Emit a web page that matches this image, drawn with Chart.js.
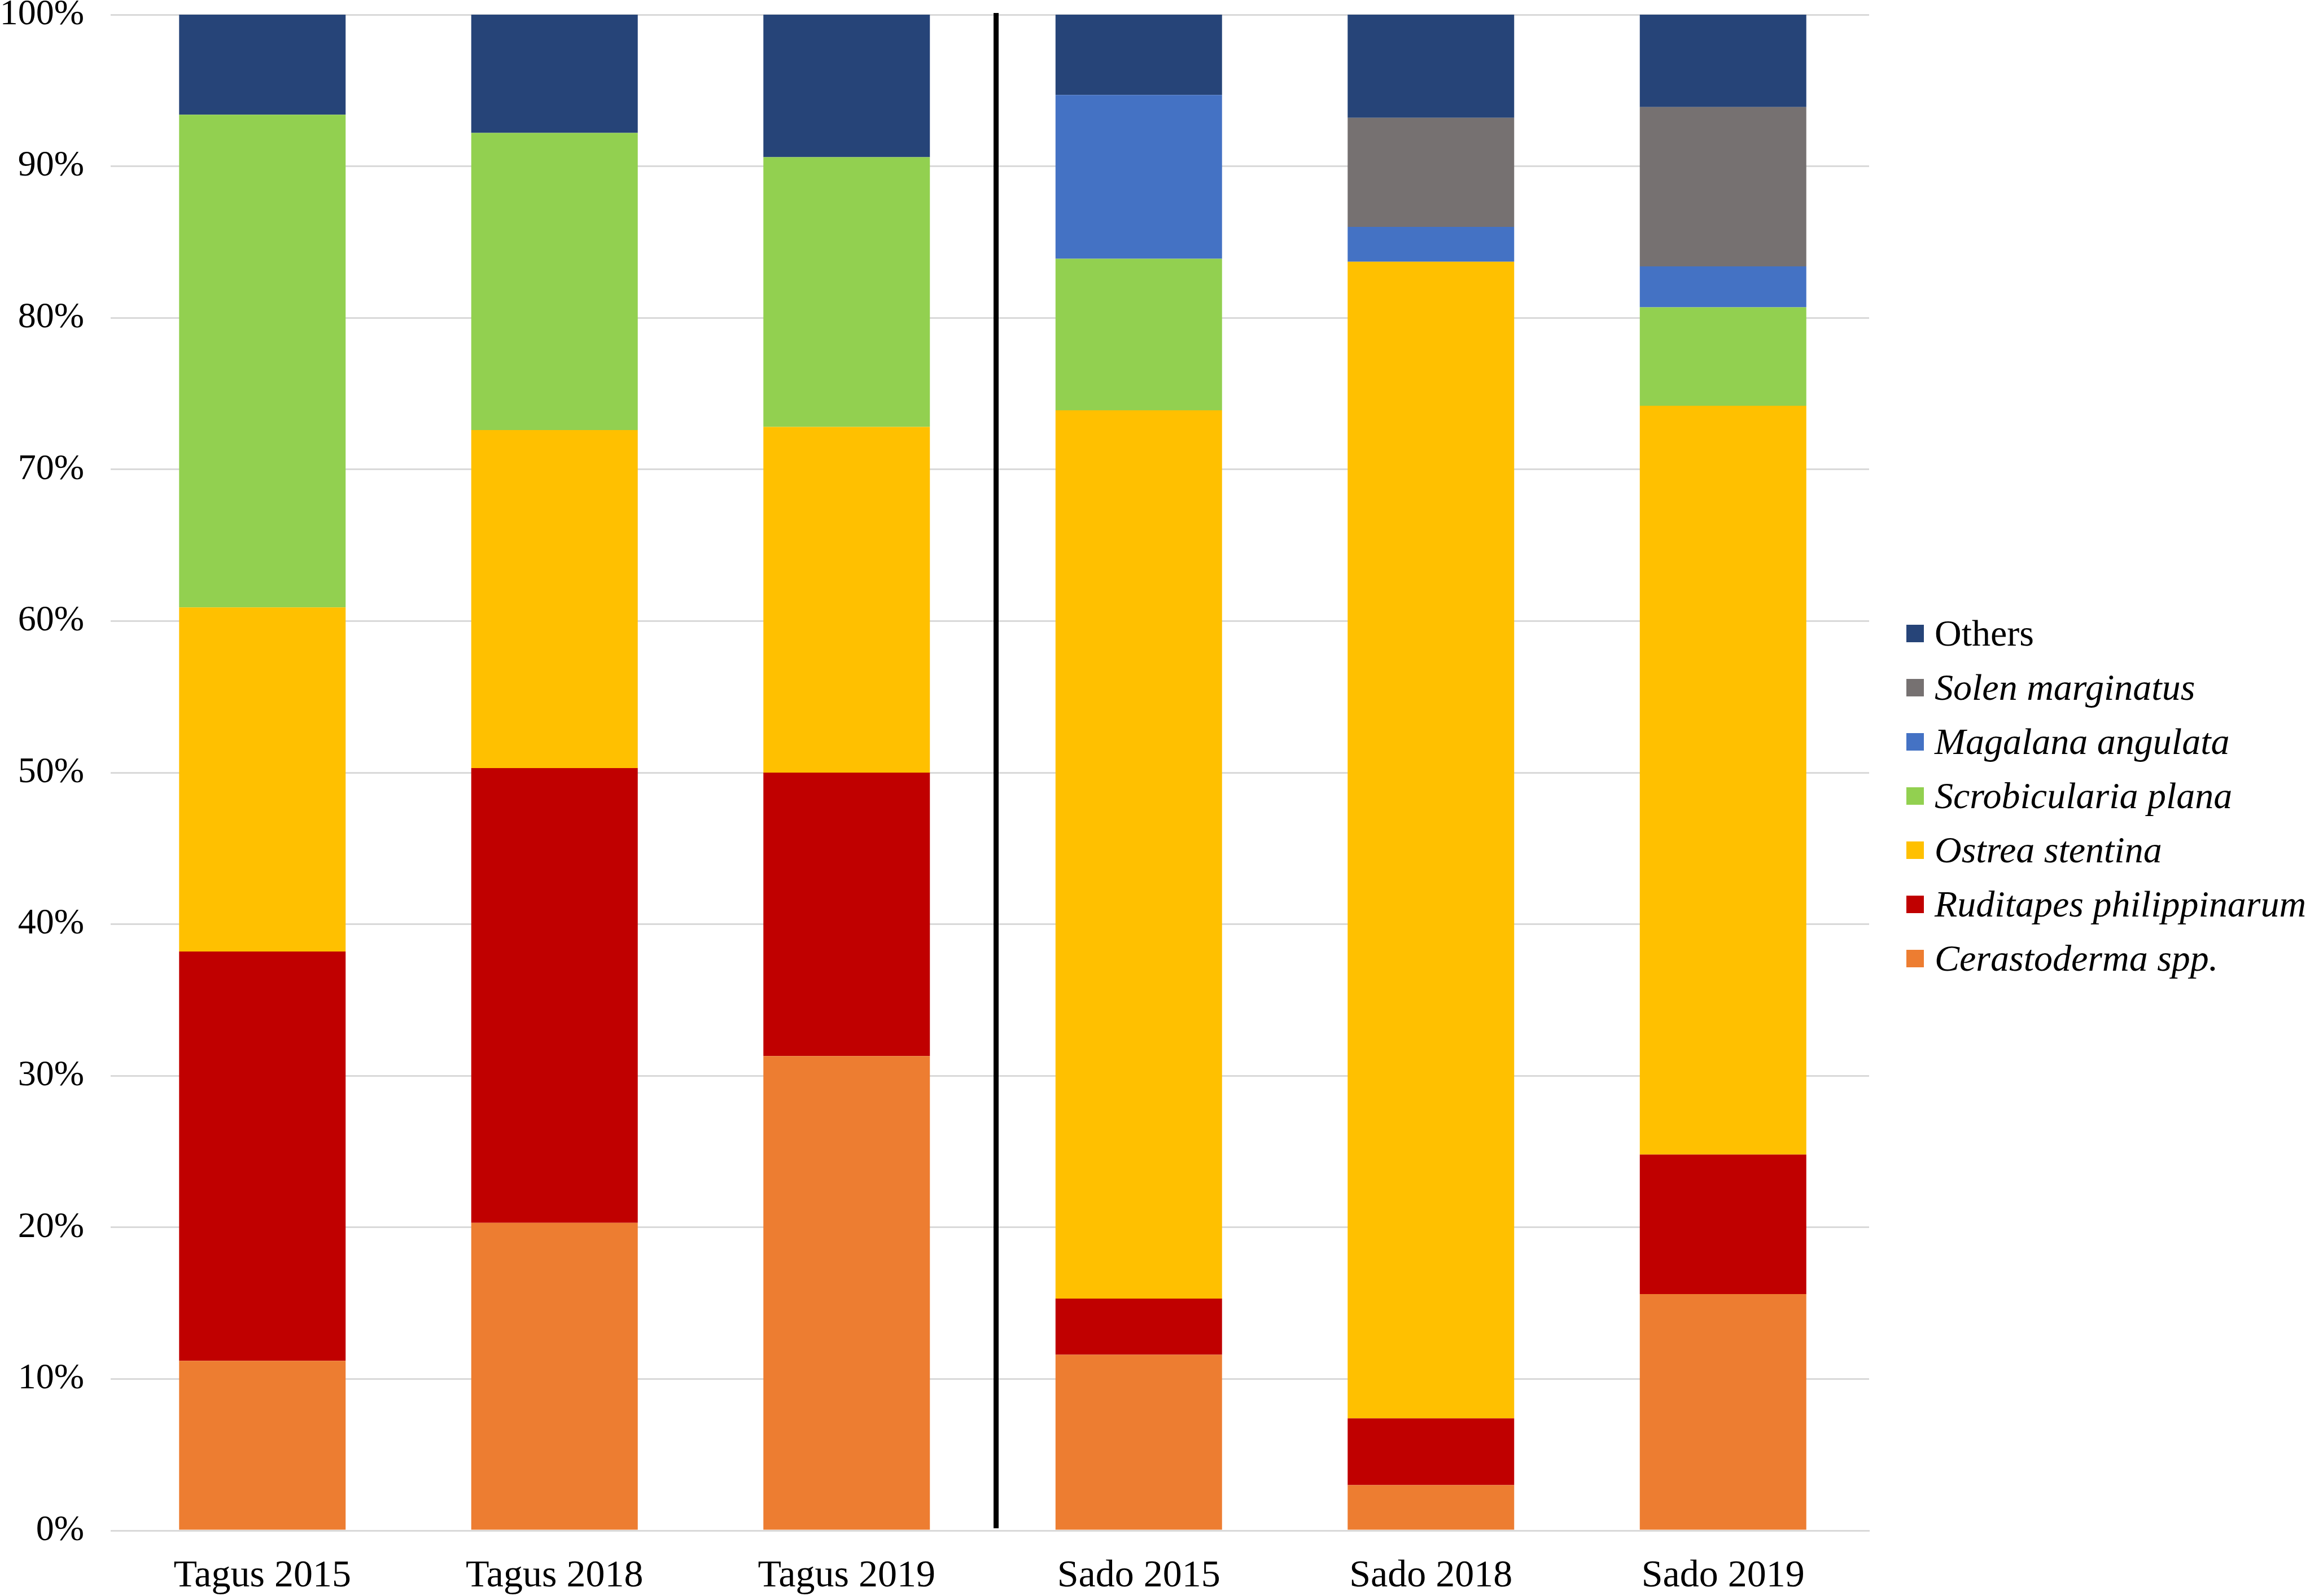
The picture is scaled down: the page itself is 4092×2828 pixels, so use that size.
<!DOCTYPE html>
<html>
<head>
<meta charset="utf-8">
<title>Bivalve composition</title>
<script src="https://cdn.jsdelivr.net/npm/chart.js@4"></script>
<style>
  body { margin: 0; background: #fff; }
  #wrap { position: relative; width: 4092px; height: 2828px; }
  #legend { position: absolute; left: 3377px; top: 1074px; font-family: 'Liberation Serif', 'Times New Roman', serif; font-size: 66px; color: #000; }
  .item { display: flex; align-items: center; height: 96px; white-space: nowrap; }
  .box { width: 31px; height: 31px; margin-right: 19px; }
</style>
</head>
<body>
<div id="wrap">
  <canvas id="chartCanvas"></canvas>
  <div id="legend"></div>
</div>
<script>
// categories on the x axis
let categories = ['Tagus 2015', 'Tagus 2018', 'Tagus 2019', 'Sado 2015', 'Sado 2018', 'Sado 2019'];

// share of each species (%), bottom of the stack first
let cerastoderma = [11.2, 20.3, 31.3, 11.6, 3.0, 15.6];
let ruditapes = [27.0, 30.0, 18.7, 3.7, 4.4, 9.2];
let ostrea = [22.7, 22.3, 22.8, 58.6, 76.3, 49.4];
let scrobicularia = [32.5, 19.6, 17.8, 10.0, 0, 6.5];
let magalana = [0, 0, 0, 10.8, 2.3, 2.7];
let solen = [0, 0, 0, 0, 7.2, 10.5];
let others = [6.6, 7.8, 9.4, 5.3, 6.8, 6.1];

// y axis ticks
let yTicks = [0, 10, 20, 30, 40, 50, 60, 70, 80, 90, 100];

let font = "'Liberation Serif', 'Times New Roman', serif";

function makeSet(label, data, color) {
  return {
    label: label,
    data: data,
    backgroundColor: color,
    borderWidth: 0,
    categoryPercentage: 1,
    barPercentage: 0.57
  };
}

// vertical black line between the Tagus and Sado groups
let dividerPlugin = {
  id: 'divider',
  afterDatasetsDraw: function(chart) {
    let x = chart.scales.x;
    let area = chart.chartArea;
    let px = (x.getPixelForValue(2) + x.getPixelForValue(3)) / 2 + 6;
    let ctx = chart.ctx;
    ctx.save();
    ctx.strokeStyle = '#000';
    ctx.lineWidth = 9;
    ctx.beginPath();
    ctx.moveTo(px, area.top - 3);
    ctx.lineTo(px, area.bottom - 4);
    ctx.stroke();
    ctx.restore();
  }
};

var ctx = document.getElementById('chartCanvas').getContext('2d');
var chart = new Chart(ctx, {
  type: 'bar',
  data: {
    labels: categories,
    datasets: [
      makeSet('Cerastoderma spp.', cerastoderma, '#ED7D31'),
      makeSet('Ruditapes philippinarum', ruditapes, '#C00000'),
      makeSet('Ostrea stentina', ostrea, '#FFC000'),
      makeSet('Scrobicularia plana', scrobicularia, '#92D050'),
      makeSet('Magalana angulata', magalana, '#4472C4'),
      makeSet('Solen marginatus', solen, '#767171'),
      makeSet('Others', others, '#264478')
    ]
  },
  options: {
    responsive: true,
    maintainAspectRatio: false,
    animation: false,
    devicePixelRatio: 1,
    layout: { padding: { top: 26, right: 781, left: 0, bottom: 0 } },
    plugins: {
      legend: { display: false },
      tooltip: { enabled: false }
    },
    scales: {
      x: {
        stacked: true,
        grid: { display: false, drawTicks: false },
        border: { display: true, color: '#D9D9D9', width: 3 },
        ticks: { color: '#000', padding: 40, font: { family: font, size: 68 } },
        afterFit: function(scale) { scale.height = 116; }
      },
      y: {
        stacked: true,
        min: 0,
        max: 100,
        afterBuildTicks: function(scale) {
          scale.ticks = yTicks.map(v => ({ value: v }));
        },
        // gridlines run a little past the plot on the left
        grid: { color: '#D9D9D9', lineWidth: 3, drawTicks: true, tickLength: 10 },
        border: { display: false },
        ticks: {
          color: '#000',
          padding: 47,
          font: { family: font, size: 64 },
          callback: function(v) { return v + '%'; }
        },
        afterFit: function(scale) {
          scale.width = 206;
          // do not push the plot down for the top label
          scale.paddingTop = 0;
          scale.paddingBottom = 0;
        }
      }
    }
  },
  plugins: [dividerPlugin]
});

// legend on the right, top entry is the top of the stack
function drawLegend() {
  let legendEl = document.getElementById('legend');
  legendEl.innerHTML = '';
  let sets = chart.data.datasets.slice().reverse();
  sets.forEach(ds => {
    let item = document.createElement('div');
    item.className = 'item';
    let box = document.createElement('span');
    box.className = 'box';
    box.style.background = ds.backgroundColor;
    let text = document.createElement('span');
    text.textContent = ds.label;
    if (ds.label !== 'Others') {
      text.style.fontStyle = 'italic'; // species names in italic
    }
    item.appendChild(box);
    item.appendChild(text);
    legendEl.appendChild(item);
  });
}
drawLegend();
</script>
</body>
</html>
